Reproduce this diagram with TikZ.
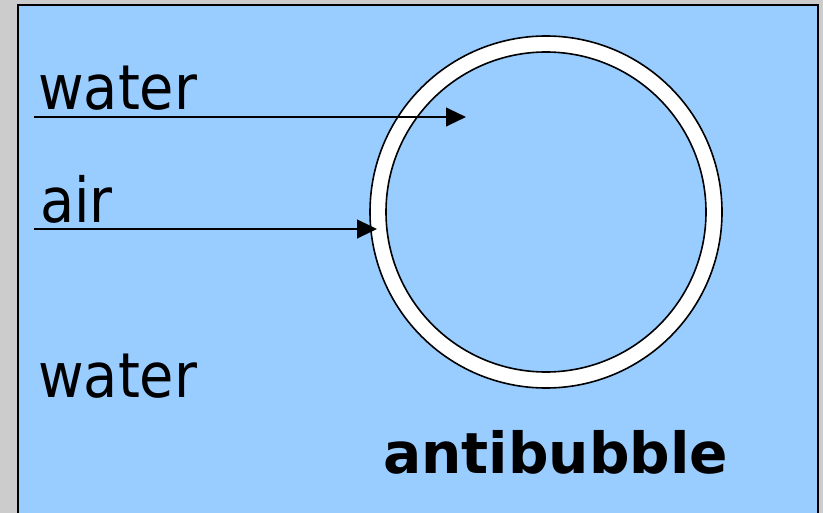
\documentclass[tikz,border=0pt]{standalone}
\usepackage{fontspec}
\setmainfont{DejaVu Sans Condensed}
\newfontfamily\heavyfont{DejaVu Sans}
\usetikzlibrary{arrows.meta}
\definecolor{pane}{RGB}{153,204,255}
\definecolor{frame}{RGB}{204,204,204}
\begin{document}
\begin{tikzpicture}[x=.75pt,y=-.75pt,
  lbl/.style={anchor=base west,inner sep=0pt,font=\fontsize{46.5}{50}\selectfont},
  ptr/.style={line width=1.6pt,-{Triangle[length=15pt,width=14pt]}}]
\clip (0,0) rectangle (823,513);\fill[frame] (0,0) rectangle (823,513);
\draw[fill=pane,line width=1.5pt] (18,5) rectangle (818,530);
% the ring
\draw[fill=white,line width=1.2pt] (546,212) circle[radius=176];\draw[fill=pane,line width=1.2pt] (546,212) circle[radius=160];
\node[lbl] (w1) at (38,110){water};\node[lbl] (a1) at (40,222){air};\node[lbl] (w2) at (38,397){water};
\node[lbl,font=\heavyfont\fontsize{42.5}{44}\selectfont\bfseries] (ab) at (383,473){antibubble};
\coordinate (s1) at (34,117);\coordinate (e1) at (466,117);\coordinate (s2) at (34,229);\coordinate (e2) at (377,229);
\draw[ptr] (s1)--(e1);\draw[ptr] (s2)--(e2);
\end{tikzpicture}
\end{document}
